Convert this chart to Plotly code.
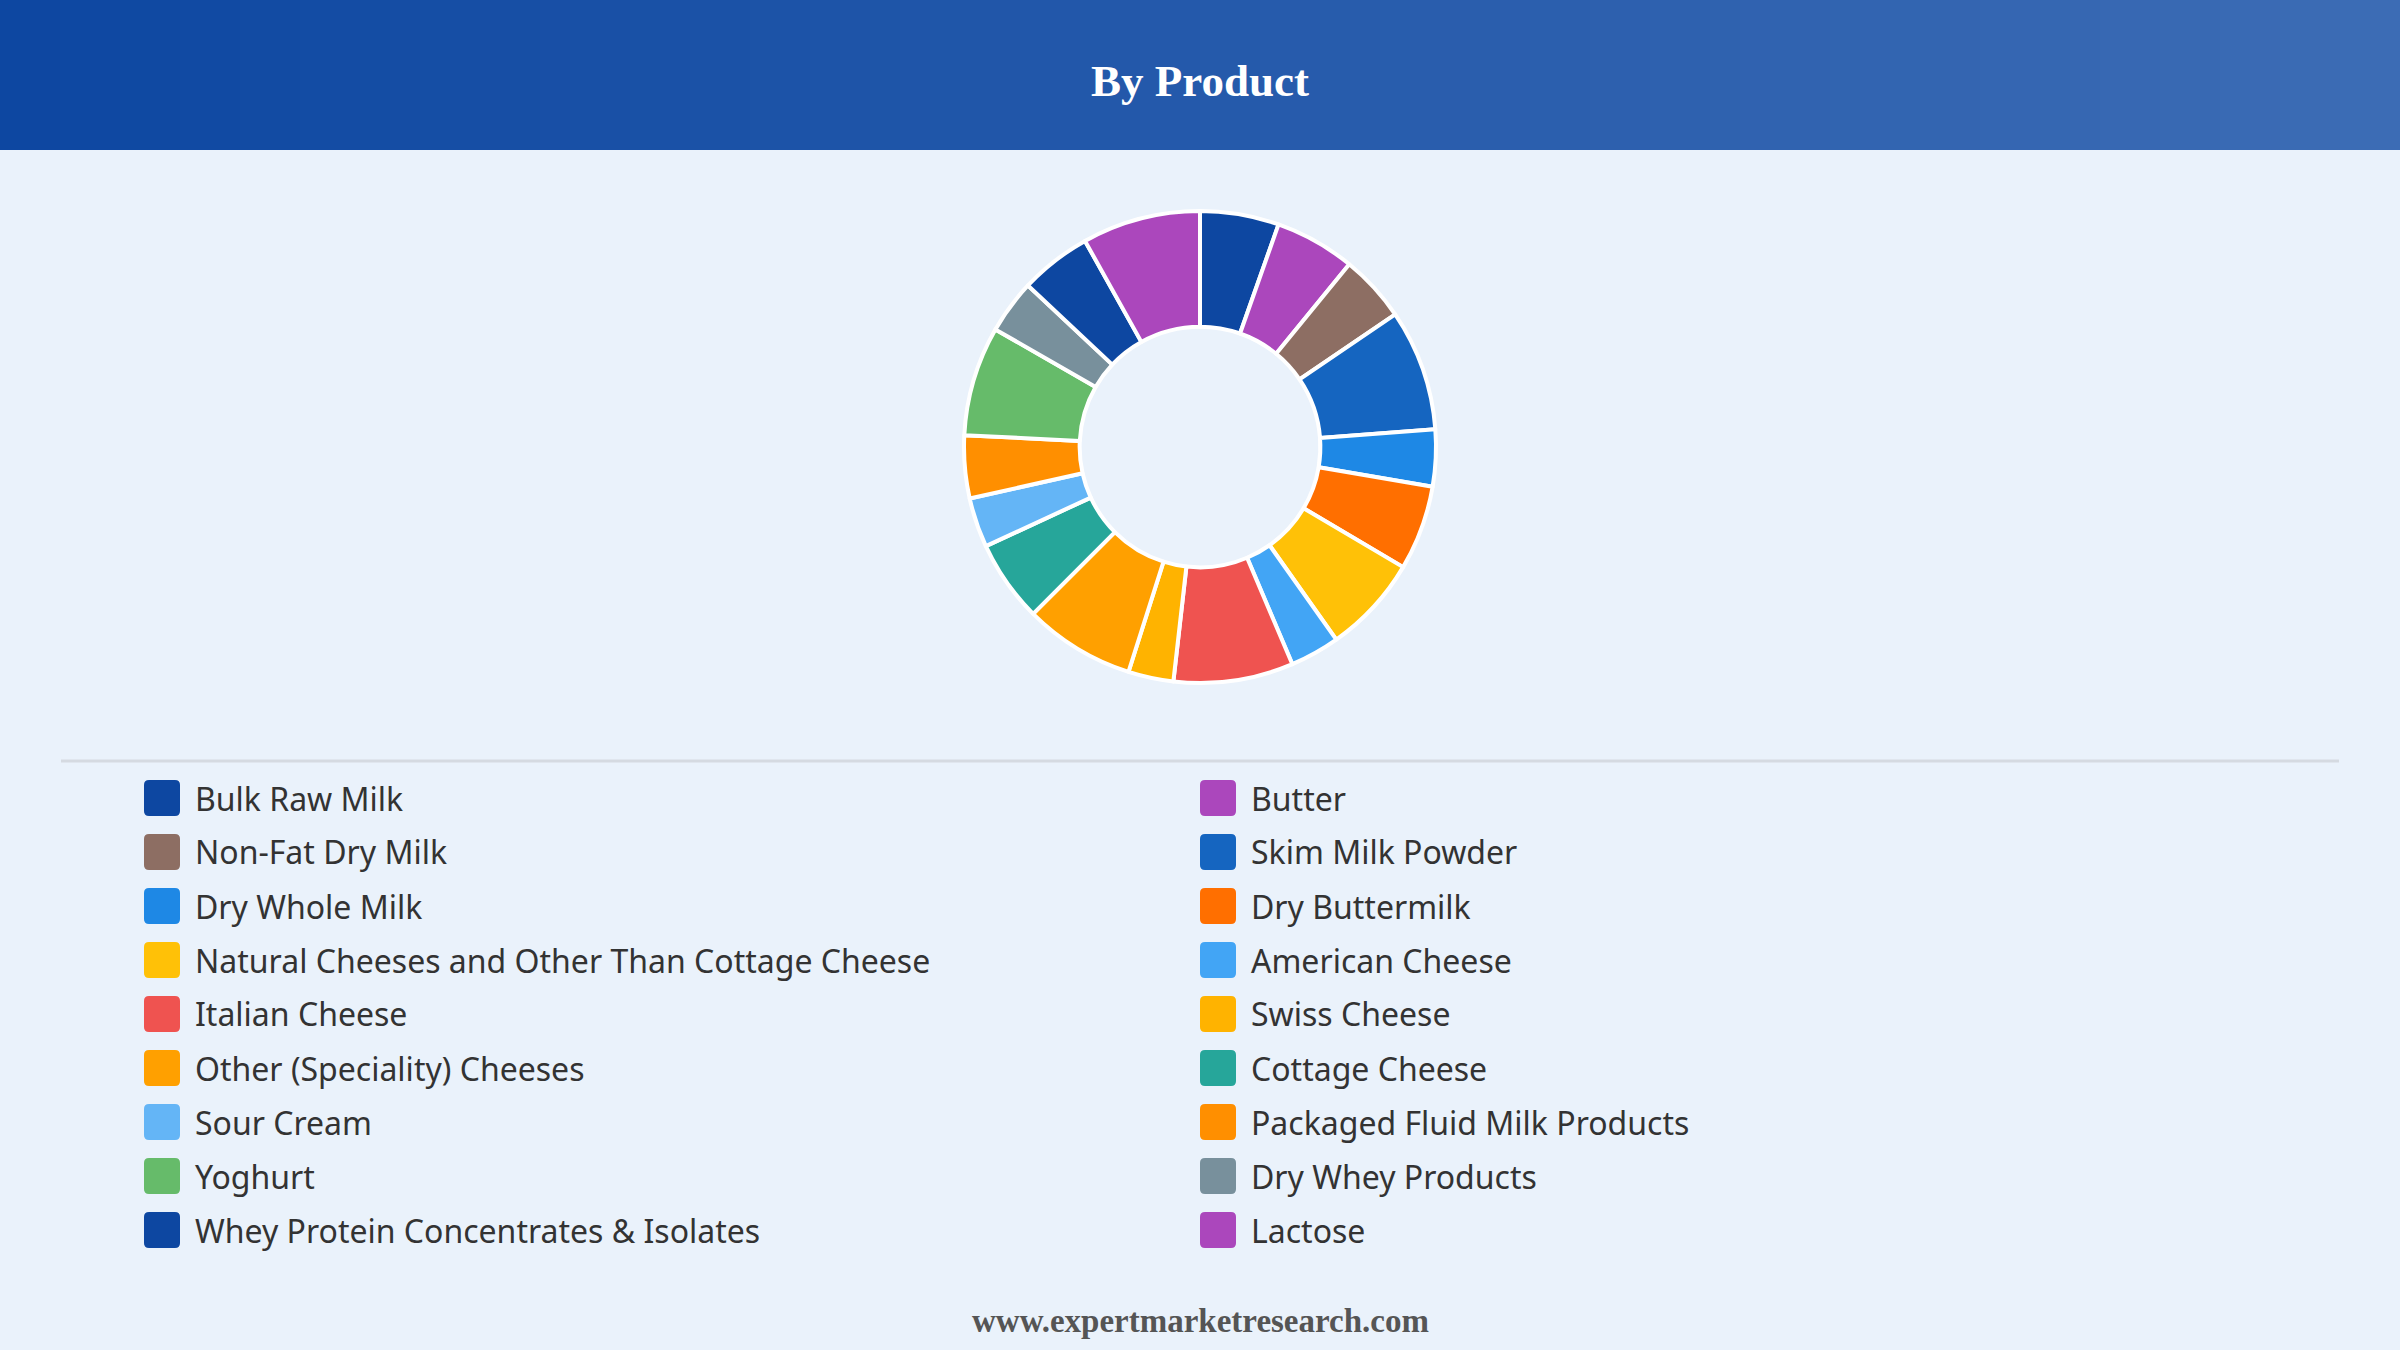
import plotly.graph_objects as go

W, H = 2400, 1350

labels = [
    "Bulk Raw Milk", "Butter", "Non-Fat Dry Milk", "Skim Milk Powder",
    "Dry Whole Milk", "Dry Buttermilk", "Natural Cheeses and Other Than Cottage Cheese",
    "American Cheese", "Italian Cheese", "Swiss Cheese", "Other (Speciality) Cheeses",
    "Cottage Cheese", "Sour Cream", "Packaged Fluid Milk Products", "Yoghurt",
    "Dry Whey Products", "Whey Protein Concentrates & Isolates", "Lactose",
]
values = [5.4, 5.5, 4.6, 8.3, 3.9, 5.8, 6.7, 3.4, 8.2, 3.1, 7.6, 5.6, 3.4, 4.3, 7.5, 3.7, 4.9, 8.1]
colors = [
    "#0D47A1", "#AB47BC", "#8D6E63", "#1565C0", "#1E88E5", "#FF6F00", "#FFC107",
    "#42A5F5", "#EF5350", "#FFB300", "#FFA000", "#26A69A", "#64B5F6", "#FF8F00",
    "#66BB6A", "#78909C", "#0D47A1", "#AB47BC",
]

title_text = "By Product"
footer_text = "www.expertmarketresearch.com"
BG = "#EAF2FB"


def px(x):
    return x / W


def py(y):
    return 1 - y / H


def hex2rgb(h):
    h = h.lstrip("#")
    return tuple(int(h[i:i + 2], 16) for i in (0, 2, 4))


fig = go.Figure()

# donut: centre (1200, 447), radius 236
cx, cy, R = 1200, 447, 236
fig.add_trace(go.Pie(
    labels=labels, values=values, sort=False, direction="clockwise", rotation=0,
    hole=0.51, textinfo="none", hoverinfo="label+percent",
    marker=dict(colors=colors, line=dict(color="white", width=4)),
    domain=dict(x=[px(cx - R), px(cx + R)], y=[py(cy + R), py(cy - R)]),
    showlegend=False,
))

shapes = []
# header gradient band
c0 = hex2rgb("#0D47A1")
c1 = hex2rgb("#3C6CB5")
N = 80
for i in range(N):
    t = i / (N - 1)
    col = "rgb(%d,%d,%d)" % tuple(round(c0[k] + (c1[k] - c0[k]) * t) for k in range(3))
    shapes.append(dict(type="rect", xref="paper", yref="paper",
                       x0=i / N, x1=(i + 1) / N + 0.001, y0=py(150), y1=1,
                       fillcolor=col, line=dict(width=0), layer="below"))

# separator line
shapes.append(dict(type="line", xref="paper", yref="paper",
                   x0=px(61), x1=px(2339), y0=py(761), y1=py(761),
                   line=dict(color="#D5DAE1", width=3)))


def rounded_square(x, y, s, r):
    def P(a, b):
        return "%.6f,%.6f" % (px(a), py(b))
    path = "M " + P(x + r, y)
    path += " L " + P(x + s - r, y)
    path += " Q " + P(x + s, y) + " " + P(x + s, y + r)
    path += " L " + P(x + s, y + s - r)
    path += " Q " + P(x + s, y + s) + " " + P(x + s - r, y + s)
    path += " L " + P(x + r, y + s)
    path += " Q " + P(x, y + s) + " " + P(x, y + s - r)
    path += " L " + P(x, y + r)
    path += " Q " + P(x, y) + " " + P(x + r, y) + " Z"
    return path


annotations = []
row0, row_step = 798, 54
col_x = [144, 1200]
sq = 36
for i, (lab, col) in enumerate(zip(labels, colors)):
    r, c = divmod(i, 2)
    yc = row0 + r * row_step
    x0 = col_x[c]
    shapes.append(dict(type="path", xref="paper", yref="paper",
                       path=rounded_square(x0, yc - sq / 2, sq, 5),
                       fillcolor=col, line=dict(width=0)))
    annotations.append(dict(text=lab, xref="paper", yref="paper",
                            x=px(x0 + sq + 13), y=py(yc), xanchor="left", yanchor="middle",
                            showarrow=False,
                            font=dict(family="Noto Sans", size=32, color="#333333")))

annotations.append(dict(text="<b>%s</b>" % title_text, xref="paper", yref="paper",
                        x=0.5, y=py(81), xanchor="center", yanchor="middle", showarrow=False,
                        font=dict(family="Liberation Serif", size=45, color="white")))
annotations.append(dict(text="<b>%s</b>" % footer_text, xref="paper", yref="paper",
                        x=0.5, y=py(1321), xanchor="center", yanchor="middle", showarrow=False,
                        font=dict(family="Liberation Serif", size=33, color="#555555")))

fig.update_layout(
    width=W, height=H, margin=dict(l=0, r=0, t=0, b=0),
    paper_bgcolor=BG, plot_bgcolor=BG,
    shapes=shapes, annotations=annotations, showlegend=False,
)

fig.write_html("out.html", config={"displayModeBar": False})
